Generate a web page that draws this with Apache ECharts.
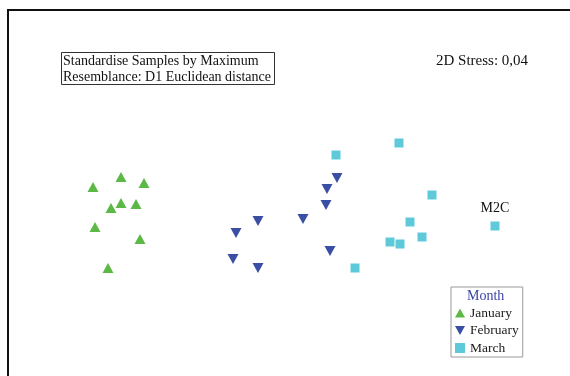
<!DOCTYPE html>
<html>
<head>
<meta charset="utf-8">
<style>
  html, body { margin: 0; padding: 0; background: #fff; }
  #chart { width: 570px; height: 376px; }
</style>
<script src="https://cdn.jsdelivr.net/npm/echarts@6/dist/echarts.min.js"></script>
</head>
<body>
<div id="chart"></div>
<script>
// nMDS ordination coordinates (arbitrary units), one sample per point
const januaryX  = [-1.79, -1.56, -2.07, -1.79, -1.64, -1.89, -2.05, -1.60, -1.92];
const januaryY  = [ 0.43,  0.37,  0.33,  0.17,  0.16,  0.12, -0.07, -0.19, -0.48];
const februaryX = [ 0.37,  0.27,  0.26, -0.42,  0.03, -0.64,  0.30, -0.67, -0.42];
const februaryY = [ 0.42,  0.31,  0.15, -0.01,  0.01, -0.13, -0.31, -0.39, -0.48];
const marchX    = [ 0.99,  0.36,  1.32,  1.10,  1.95,  1.22,  0.90,  1.00,  0.55];
const marchY    = [ 0.77,  0.65,  0.25, -0.02, -0.06, -0.17, -0.22, -0.24, -0.48];
const marchNames = ['', '', '', '', 'M2C', '', '', '', ''];

const seriesNames = ['January', 'February', 'March'];
const stressText = '2D Stress: 0,04';
const noteLines = ['Standardise Samples by Maximum', 'Resemblance: D1 Euclidean distance'];

const serif = '"Liberation Serif", "DejaVu Serif", serif';
const upTri = 'path://M5,0 L10,9 L0,9 Z';
const downTri = 'path://M0,0 L10,0 L5,9 Z';
const square = 'path://M0,0 L9,0 L9,9 L0,9 Z';

function pairs(xs, ys) { return xs.map((x, i) => [x, ys[i]]); }

const chart = echarts.init(document.getElementById('chart'), null, { renderer: 'canvas' });
chart.setOption({
  animation: false,
  backgroundColor: '#fff',
  grid: { left: 0, right: 0, top: 0, bottom: 0 },
  xAxis: { type: 'value', min: -3.0, max: 2.7, show: false },
  yAxis: { type: 'value', min: -1.56, max: 2.2, show: false },
  title: [{
    text: noteLines.join('\n'),
    left: 61, top: 52,
    padding: [1, 4, 0, 2],
    borderColor: '#333', borderWidth: 1,
    textStyle: { fontFamily: serif, fontSize: 14, fontWeight: 'normal', color: '#111', lineHeight: 16 }
  }, {
    text: stressText,
    left: 436, top: 54,
    padding: 0,
    textStyle: { fontFamily: serif, fontSize: 15, fontWeight: 'normal', color: '#111' }
  }],
  legend: {
    orient: 'vertical',
    left: 451, top: 287,
    padding: [19, 4, 2, 4],
    itemWidth: 10, itemHeight: 14, itemGap: 3.5,
    borderColor: '#999', borderWidth: 1,
    textStyle: { fontFamily: serif, fontSize: 13.5, color: '#1a1a1a' },
    data: [
      { name: seriesNames[0], icon: upTri },
      { name: seriesNames[1], icon: downTri },
      { name: seriesNames[2], icon: square }
    ]
  },
  graphic: [{
    type: 'rect',
    shape: { x: 8, y: 10, width: 700, height: 500 },
    style: { fill: 'none', stroke: '#111', lineWidth: 2 },
    silent: true
  }, {
    type: 'text',
    left: 467, top: 289,
    style: { text: 'Month', font: '14px ' + serif, fill: '#3b44a6' }
  }],
  series: [{
    name: seriesNames[0], type: 'scatter',
    symbol: upTri, symbolSize: [11, 10],
    itemStyle: { color: '#5cb946', opacity: 1 },
    data: pairs(januaryX, januaryY)
  }, {
    name: seriesNames[1], type: 'scatter',
    symbol: downTri, symbolSize: [11, 10],
    itemStyle: { color: '#3a4ea3', opacity: 1 },
    data: pairs(februaryX, februaryY)
  }, {
    name: seriesNames[2], type: 'scatter',
    symbol: square, symbolSize: 9,
    itemStyle: { color: '#5ecad9', opacity: 1 },
    data: pairs(marchX, marchY).map((p, i) => ({ name: marchNames[i], value: p })),
    label: {
      show: true, position: 'top', distance: 6,
      formatter: p => p.name,
      fontFamily: serif, fontSize: 14, color: '#111'
    }
  }]
});
</script>
</body>
</html>
